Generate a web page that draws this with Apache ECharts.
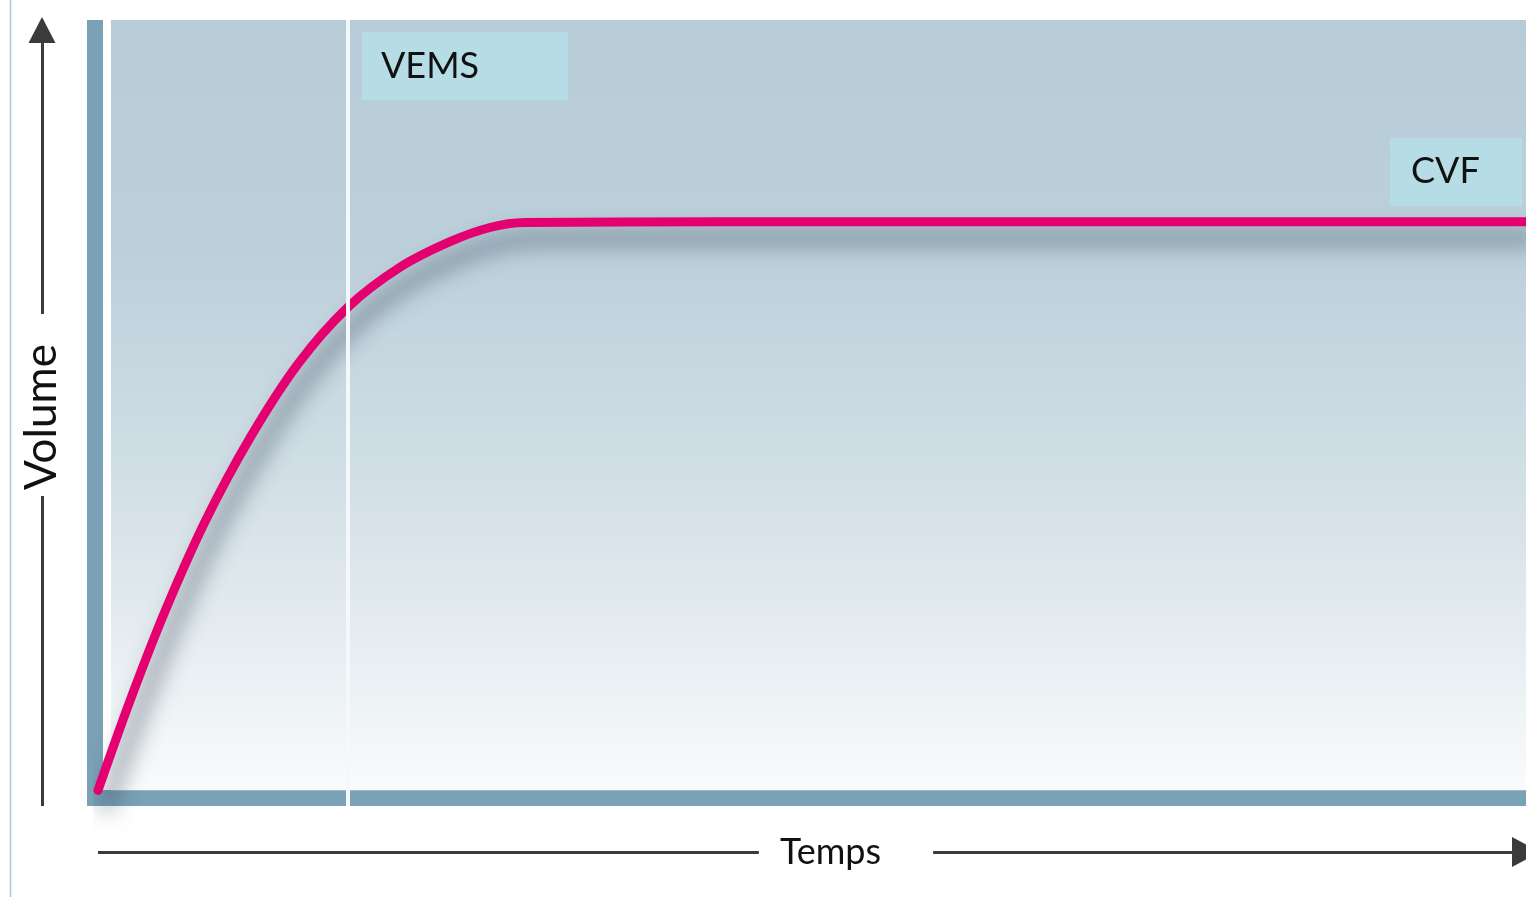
<!DOCTYPE html>
<html>
<head>
<meta charset="utf-8">
<script src="https://cdn.jsdelivr.net/npm/echarts@6/dist/echarts.min.js"></script>
<style>
  html, body { margin: 0; padding: 0; background: #ffffff; }
  #chart { width: 1526px; height: 897px; }
</style>
</head>
<body>
<div id="chart"></div>
<script>
// ---- data (time in seconds, volume in litres) ----
const TIME_S   = [0, 0.128, 0.268, 0.428, 0.608, 0.800, 1.00, 1.208, 1.408, 1.568, 1.708, 2.50, 4.00, 5.712];
const VOLUME_L = [0, 0.63,  1.26,  1.89,  2.48,  3.00,  3.40, 3.68,  3.86,  3.96,  3.995, 4.00, 4.00, 4.00];
const VEMS_T = 1.0;          // FEV1 marker time
const CVF_L = 4.0;           // forced vital capacity plateau
const MARK_LABELS = ['VEMS', 'CVF'];
const AXIS_NAMES = ['Temps', 'Volume'];
const X_MIN = 0, X_MAX = 5.712;
const Y_MIN = -0.11, Y_MAX = 5.42;
const PANEL_X0 = 0.052;

const points = TIME_S.map((t, i) => [t, VOLUME_L[i]]);

const chart = echarts.init(document.getElementById('chart'), null, { renderer: 'canvas' });
const FONT = 'Lato, "Open Sans", sans-serif';
const AXIS_DARK = '#3b3b3b';
const BAR = '#7aa1b6';
const hidden = { axisTick: { show: false }, axisLabel: { show: false }, splitLine: { show: false } };

const option = {
  animation: false,
  backgroundColor: '#ffffff',
  grid: { left: 98, right: 0, top: 20, bottom: 91, outerBoundsMode: 'none' },
  graphic: [
    { type: 'line', silent: true, shape: { x1: 10.5, y1: 0, x2: 10.5, y2: 897 },
      style: { stroke: '#a9c3d8', lineWidth: 1.5 } }
  ],
  xAxis: [
    Object.assign({ type: 'value', min: X_MIN, max: X_MAX, offset: -8,
      axisLine: { show: true, onZero: false, lineStyle: { color: BAR, width: 16, cap: 'square' } } }, hidden),
    Object.assign({ type: 'value', min: X_MIN, max: X_MAX, position: 'bottom', offset: 46, z: 1,
      axisLine: { show: true, onZero: false, symbol: ['none', 'triangle'], symbolSize: [30, 28],
        lineStyle: { color: AXIS_DARK, width: 3, cap: 'butt' } } }, hidden),
    Object.assign({ type: 'value', min: X_MIN, max: X_MAX, position: 'bottom', offset: 46, z: 6,
      axisLine: { show: false, onZero: false },
      name: '{s| }{g|' + AXIS_NAMES[0] + '}', nameLocation: 'middle', nameGap: 0,
      nameTextStyle: {
        verticalAlign: 'middle',
        rich: {
          s: { width: 68 },
          g: { backgroundColor: '#ffffff', padding: [0, 52, 0, 21], fontSize: 36,
               fontFamily: FONT, color: '#111', lineHeight: 44 }
        }
      } }, hidden)
  ],
  yAxis: [
    Object.assign({ type: 'value', min: Y_MIN, max: Y_MAX, offset: 3,
      axisLine: { show: true, onZero: false, lineStyle: { color: BAR, width: 16, cap: 'butt' } } }, hidden),
    Object.assign({ type: 'value', min: 0, max: 1, position: 'left', offset: 56, z: 1,
      axisLine: { show: true, onZero: false, symbol: ['none', 'triangle'], symbolSize: [27, 26],
        symbolOffset: [0, -10], lineStyle: { color: AXIS_DARK, width: 3, cap: 'butt' } } }, hidden),
    Object.assign({ type: 'value', min: 0, max: 1, position: 'left', offset: 56, z: 6,
      axisLine: { show: false, onZero: false },
      name: '{s| }{g|' + AXIS_NAMES[1] + '}', nameLocation: 'middle', nameGap: 0, nameRotate: 90,
      nameTextStyle: {
        verticalAlign: 'middle',
        rich: {
          s: { width: 16 },
          g: { backgroundColor: '#ffffff', padding: [0, 30, 0, 6], fontSize: 44,
               fontFamily: FONT, color: '#111', lineHeight: 52 }
        }
      } }, hidden)
  ],
  series: [
    {
      type: 'line',
      xAxisIndex: 0, yAxisIndex: 0,
      data: points,
      smooth: 0.35,
      clip: false,
      showSymbol: false,
      silent: true,
      lineStyle: {
        color: '#e5006f', width: 9, cap: 'round', join: 'round',
        shadowColor: 'rgba(45,60,78,0.72)', shadowBlur: 22, shadowOffsetX: 8, shadowOffsetY: 16
      },
      markArea: {
        silent: true,
        itemStyle: {
          opacity: 1,
          color: { type: 'linear', x: 0, y: 0, x2: 0, y2: 1, colorStops: [
            { offset: 0, color: '#b8ccd8' },
            { offset: 0.3, color: '#bcd0db' },
            { offset: 0.6, color: '#d2dfe6' },
            { offset: 0.85, color: '#eaf0f3' },
            { offset: 1, color: '#f9fbfc' }
          ] }
        },
        data: [[{ xAxis: PANEL_X0, yAxis: 0 }, { xAxis: X_MAX, yAxis: Y_MAX }]]
      },
      markLine: {
        silent: true,
        symbol: ['none', 'none'],
        label: { show: false },
        lineStyle: { color: '#f4f8fa', width: 4, type: 'solid' },
        data: [{ xAxis: VEMS_T }]
      },
      markPoint: {
        silent: true,
        symbol: 'rect',
        itemStyle: { color: '#b6dce6' },
        label: { show: true, color: '#111', fontSize: 36, fontFamily: FONT, position: 'insideLeft' },
        data: [
          { coord: [VEMS_T, Y_MAX], symbolSize: [206, 68], symbolOffset: [117, 46],
            label: { formatter: MARK_LABELS[0], distance: 19 } },
          { coord: [X_MAX, CVF_L], symbolSize: [132, 68], symbolOffset: [-70, -50],
            label: { formatter: MARK_LABELS[1], distance: 21 } }
        ]
      }
    }
  ]
};
chart.setOption(option);
</script>
</body>
</html>
